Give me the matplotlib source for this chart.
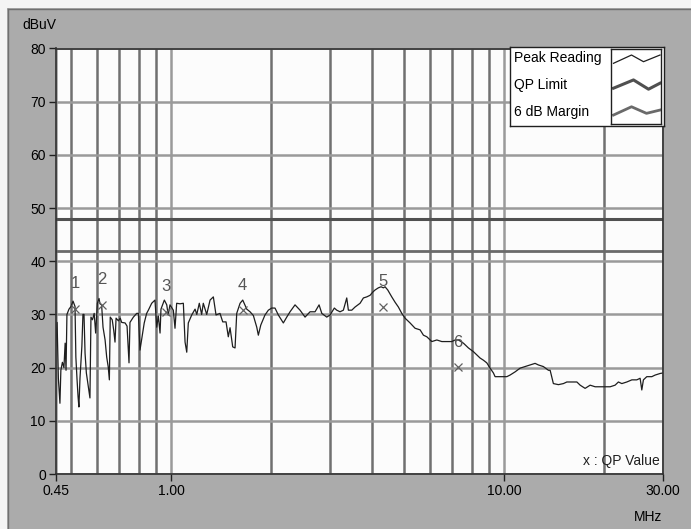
import numpy as np
import matplotlib
matplotlib.use("Agg")
import matplotlib.pyplot as plt
from matplotlib.patches import Rectangle
from matplotlib.lines import Line2D
from matplotlib.ticker import FixedLocator, LogLocator, NullFormatter

plt.rcParams['font.family'] = ['Liberation Sans', 'DejaVu Sans']

# peak reading trace (MHz, dBuV)
freq = [0.450, 0.455, 0.459, 0.464, 0.467, 0.472, 0.477, 0.481, 0.484, 0.487,
        0.494, 0.501, 0.508, 0.515, 0.518, 0.522, 0.526, 0.529, 0.533, 0.540,
        0.544, 0.548, 0.552, 0.557, 0.563, 0.571, 0.575, 0.581, 0.588, 0.594,
        0.601, 0.608, 0.612, 0.619, 0.625, 0.634, 0.641, 0.648, 0.653, 0.657,
        0.666, 0.673, 0.679, 0.684, 0.695, 0.704, 0.711, 0.728, 0.738, 0.748,
        0.753, 0.771, 0.789, 0.798, 0.807, 0.817, 0.831, 0.845, 0.855, 0.875,
        0.895, 0.906, 0.916, 0.927, 0.933, 0.955, 0.971, 0.981, 0.993, 1.016,
        1.028, 1.040, 1.064, 1.089, 1.102, 1.115, 1.127, 1.154, 1.181, 1.195,
        1.216, 1.236, 1.250, 1.280, 1.310, 1.340, 1.365, 1.403, 1.430, 1.463,
        1.486, 1.504, 1.532, 1.557, 1.575, 1.612, 1.642, 1.688, 1.727, 1.767,
        1.809, 1.829, 1.860, 1.915, 1.960, 2.006, 2.052, 2.100, 2.174, 2.226,
        2.277, 2.357, 2.440, 2.526, 2.615, 2.707, 2.783, 2.836, 2.935, 3.003,
        3.093, 3.145, 3.217, 3.292, 3.370, 3.408, 3.489, 3.570, 3.695, 3.781,
        3.870, 3.960, 4.034, 4.099, 4.193, 4.272, 4.341, 4.392, 4.474, 4.600,
        4.706, 4.815, 4.930, 5.043, 5.221, 5.405, 5.596, 5.726, 5.862, 6.068,
        6.282, 6.502, 6.731, 6.967, 7.129, 7.293, 7.549, 7.815, 8.090, 8.282,
        8.472, 8.667, 8.872, 9.078, 9.288, 9.397, 9.727, 10.19, 10.42, 10.79,
        11.17, 11.56, 11.97, 12.39, 12.68, 13.12, 13.59, 13.75, 14.06, 14.56,
        15.07, 15.43, 15.97, 16.54, 16.92, 17.51, 18.13, 18.77, 19.43, 20.11,
        20.82, 21.54, 22.04, 22.57, 23.36, 24.19, 25.03, 25.61, 25.91, 26.20,
        26.82, 27.77, 28.41, 29.41, 30.00]
level = [24.0, 28.5, 18.0, 13.3, 19.5, 21.0, 20.0, 24.6, 19.5, 30.0,
         31.0, 31.5, 32.5, 31.5, 22.0, 18.0, 14.5, 12.6, 18.0, 24.0,
         30.0, 30.0, 22.7, 19.0, 17.0, 14.3, 29.5, 29.0, 30.2, 26.5,
         32.1, 33.0, 32.0, 31.8, 27.6, 25.2, 22.0, 20.1, 17.7, 29.5,
         29.0, 27.0, 24.8, 29.3, 28.8, 29.3, 28.5, 28.4, 27.8, 20.9,
         28.5, 29.5, 30.2, 30.2, 23.3, 25.5, 28.4, 30.2, 30.8, 32.1,
         32.7, 27.6, 29.7, 26.5, 31.0, 32.7, 31.8, 29.9, 31.8, 30.8,
         27.4, 32.1, 32.0, 32.1, 24.8, 22.9, 28.4, 29.9, 31.0, 30.0,
         32.1, 30.0, 32.1, 30.0, 32.7, 33.3, 29.9, 30.2, 28.6, 28.6,
         25.8, 27.5, 23.9, 23.7, 30.2, 32.1, 32.7, 31.0, 30.5, 29.8,
         27.6, 26.1, 28.0, 29.9, 30.8, 31.2, 31.2, 29.9, 28.4, 29.5,
         30.5, 31.8, 30.8, 29.5, 30.5, 30.5, 31.8, 30.2, 29.5, 29.9,
         31.2, 30.8, 30.5, 30.8, 33.1, 30.8, 30.8, 31.4, 32.1, 33.1,
         33.3, 33.6, 34.2, 34.6, 35.0, 35.2, 35.0, 35.2, 34.6, 33.3,
         32.3, 31.4, 30.2, 29.3, 28.4, 27.4, 27.1, 26.1, 25.8, 24.9,
         25.2, 24.9, 24.9, 24.9, 25.2, 25.2, 24.6, 23.7, 23.0, 22.4,
         21.8, 21.4, 20.9, 19.9, 19.0, 18.3, 18.3, 18.3, 18.6, 19.2,
         19.9, 20.2, 20.5, 20.8, 20.5, 20.2, 19.5, 19.5, 17.0, 16.8,
         17.0, 17.3, 17.3, 17.3, 16.7, 16.1, 16.7, 16.4, 16.4, 16.4,
         16.4, 16.7, 17.3, 17.0, 17.3, 17.7, 17.7, 18.0, 15.8, 17.7,
         18.3, 18.3, 18.6, 18.9, 19.0]

# quasi-peak results
qp_freq = [0.515, 0.619, 0.966, 1.64, 4.34, 7.26]
qp_level = [31.1, 31.8, 30.5, 30.8, 31.4, 20.1]
qp_names = ['1', '2', '3', '4', '5', '6']

qp_limit = 48.0
margin_db = 6.0

x_ticks = [0.45, 1.0, 10.0, 30.0]
x_tick_labels = ['0.45', '1.00', '10.00', '30.00']
y_ticks = [0, 10, 20, 30, 40, 50, 60, 70, 80]

W, H = 691, 529
fig = plt.figure(figsize=(W / 100, H / 100), dpi=100)
fig.patch.set_facecolor('#ababab')

# window frame: light strip on top/left with a dark edge
fig.patches.append(Rectangle((0, 1 - 8 / H), 1, 8 / H, transform=fig.transFigure,
                             facecolor='#f4f4f4', edgecolor='none', zorder=-1))
fig.patches.append(Rectangle((0, 0), 7 / W, 1, transform=fig.transFigure,
                             facecolor='#f4f4f4', edgecolor='none', zorder=-1))
fig.lines.append(Line2D([7.5 / W, 1], [1 - 8.5 / H, 1 - 8.5 / H],
                        transform=fig.transFigure, color='#707070', lw=1))
fig.lines.append(Line2D([7.5 / W, 7.5 / W], [0, 1 - 8.5 / H],
                        transform=fig.transFigure, color='#707070', lw=1))

ax = fig.add_axes([55.5 / W, 1 - 474 / H, (663 - 55.5) / W, (474 - 48.5) / H])
ax.set_facecolor('#fcfcfc')
ax.set_xscale('log')
ax.set_xlim(0.45, 30)
ax.set_ylim(0, 80)

ax.xaxis.set_major_locator(FixedLocator(x_ticks))
ax.set_xticklabels(x_tick_labels)
ax.xaxis.set_minor_locator(LogLocator(base=10, subs=np.arange(2, 10)))
ax.xaxis.set_minor_formatter(NullFormatter())
ax.set_yticks(y_ticks)

ax.grid(True, axis='x', which='minor', color='#707070', lw=1.8)
ax.grid(True, axis='x', which='major', color='#9a9a9a', lw=1.8)
ax.grid(True, axis='y', which='major', color='#9a9a9a', lw=1.8)
ax.set_axisbelow(True)
ax.tick_params(which='major', direction='out', length=5, width=1,
               color='#202020', labelsize=10, pad=2)
ax.tick_params(which='minor', length=0)
for s in ax.spines.values():
    s.set_color('#303030')
    s.set_linewidth(1.2)

ax.axhline(qp_limit, color='#505050', lw=2.2)
ax.axhline(qp_limit - margin_db, color='#6a6a6a', lw=2.0)

ax.plot(freq, level, color='#1e1e1e', lw=0.9)
ax.plot(qp_freq, qp_level, 'x', color='#606060', ms=6, mew=0.9)
for f, v, name in zip(qp_freq, qp_level, qp_names):
    ax.annotate(name, (f, v), xytext=(0, 18), textcoords='offset points',
                ha='center', va='center', fontsize=12, color='#555555')

ax.text(0.995, 0.03, 'x : QP Value', transform=ax.transAxes, ha='right',
        va='center', fontsize=10, color='#202020')

fig.text(22 / W, 1 - 25 / H, 'dBuV', ha='left', va='center', fontsize=10)
fig.text(662 / W, 1 - 517 / H, 'MHz', ha='right', va='center', fontsize=10)

# legend box
lg = fig.add_axes([510 / W, 1 - 126 / H, 154 / W, 79.3 / H])
lg.set_facecolor('white')
lg.set_xticks([])
lg.set_yticks([])
for s in lg.spines.values():
    s.set_color('#202020')
    s.set_linewidth(1)
legend_names = ['Peak Reading', 'QP Limit', '6 dB Margin']
for name, yy in zip(legend_names, [0.854, 0.517, 0.18]):
    lg.text(0.025, yy, name, transform=lg.transAxes, ha='left', va='center',
            fontsize=10)

sw = fig.add_axes([611 / W, 1 - 124 / H, 50 / W, 74.7 / H])
sw.set_facecolor('white')
sw.set_xticks([])
sw.set_yticks([])
sw.set_xlim(0, 1)
sw.set_ylim(0, 3)
for s in sw.spines.values():
    s.set_color('#202020')
    s.set_linewidth(1)
sw.plot([0.05, 0.41, 0.65, 0.98], 2.61 + np.array([-4.3, 4, -2.7, 4]) * 0.04,
        color='#1e1e1e', lw=0.9)
sw.plot([0.05, 0.45, 0.75, 0.98], 1.57 + np.array([-3.3, 5, -4.3, 1.7]) * 0.04,
        color='#505050', lw=2.2)
sw.plot([0.05, 0.41, 0.71, 0.98], 0.52 + np.array([-4, 4.3, -2.3, 1]) * 0.04,
        color='#6a6a6a', lw=2.0)

fig.savefig('out.png', dpi=100, facecolor=fig.get_facecolor())
